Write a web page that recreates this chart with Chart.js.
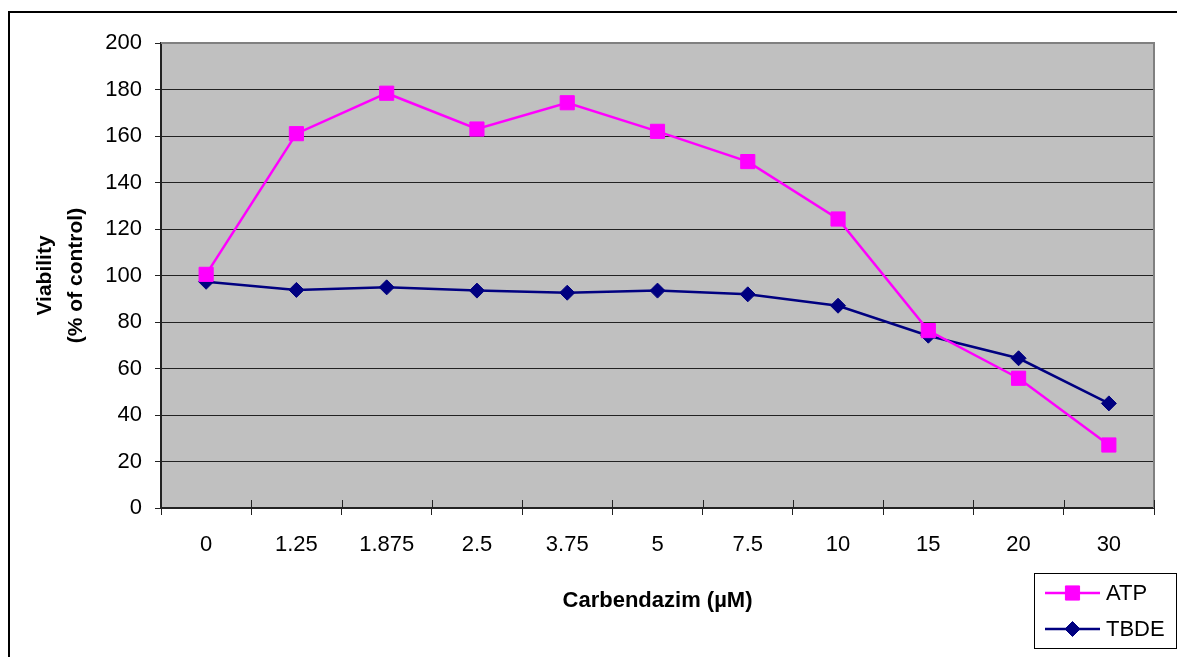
<!DOCTYPE html>
<html>
<head>
<meta charset="utf-8">
<title>Carbendazim viability</title>
<script src="https://cdn.jsdelivr.net/npm/chart.js@4.4.1/dist/chart.umd.min.js"></script>
<style>
  html, body { margin: 0; padding: 0; background: #fff; }
  #wrap { width: 1177px; height: 657px; }
</style>
</head>
<body>
<div id="wrap"><canvas id="viabilityChart" width="1177" height="657"></canvas></div>
<script>
const categories = ['0', '1.25', '1.875', '2.5', '3.75', '5', '7.5', '10', '15', '20', '30'];
const atpValues = [100.5, 161, 178.4, 163, 174.3, 162, 149, 124.3, 76.3, 55.8, 27.1];
const tbdeValues = [97.3, 93.8, 94.9, 93.5, 92.6, 93.5, 91.9, 87, 74.1, 64.4, 45];
const yMin = 0;
const yMax = 200;
const yStep = 20;

const FONT = '"Liberation Sans", Arial, sans-serif';

// white page, outer frame, grey plot background
const backdrop = {
  id: 'backdrop',
  beforeDraw(chart) {
    const { ctx, chartArea: a } = chart;
    ctx.save();
    ctx.fillStyle = '#fff';
    ctx.fillRect(0, 0, chart.width, chart.height);
    ctx.strokeStyle = '#000';
    ctx.lineWidth = 2;
    ctx.beginPath();
    ctx.moveTo(9, chart.height + 5);
    ctx.lineTo(9, 12);
    ctx.lineTo(chart.width + 5, 12);
    ctx.stroke();
    ctx.fillStyle = '#C0C0C0';
    ctx.fillRect(a.left, a.top, a.right - a.left, a.bottom - a.top);
    ctx.restore();
  },
  beforeDatasetsDraw(chart) {
    const { ctx, chartArea: a, scales } = chart;
    ctx.save();
    // grey frame on top and right
    ctx.strokeStyle = '#808080';
    ctx.lineWidth = 2;
    ctx.beginPath();
    ctx.moveTo(a.left, a.top);
    ctx.lineTo(a.right, a.top);
    ctx.lineTo(a.right, a.bottom);
    ctx.stroke();
    // category ticks cross the axis line
    const xs = scales.x;
    const step = xs.getPixelForValue(1) - xs.getPixelForValue(0);
    ctx.strokeStyle = '#222';
    ctx.lineWidth = 1;
    ctx.beginPath();
    for (let i = 0; i <= categories.length; i++) {
      const px = Math.round(xs.getPixelForValue(i) - step / 2) + 0.5;
      ctx.moveTo(px, a.bottom - 8);
      ctx.lineTo(px, a.bottom);
    }
    ctx.stroke();
    ctx.restore();
  }
};

// boxed legend in the lower right corner
const boxLegend = {
  id: 'boxLegend',
  afterDraw(chart) {
    const { ctx } = chart;
    ctx.save();
    ctx.strokeStyle = '#000';
    ctx.lineWidth = 1;
    ctx.strokeRect(1034.5, 573.5, 142, 75);
    ctx.font = '22px ' + FONT;
    ctx.textBaseline = 'middle';
    ctx.textAlign = 'left';
    chart.data.datasets.forEach((ds, i) => {
      const y = 593 + i * 36;
      ctx.strokeStyle = ds.borderColor;
      ctx.lineWidth = ds.borderWidth;
      ctx.beginPath();
      ctx.moveTo(1045, y);
      ctx.lineTo(1100, y);
      ctx.stroke();
      ctx.fillStyle = ds.pointBackgroundColor;
      ctx.strokeStyle = ds.pointBorderColor;
      ctx.lineWidth = ds.pointBorderWidth;
      Chart.helpers.drawPoint(ctx, { pointStyle: ds.pointStyle, radius: ds.pointRadius, borderWidth: ds.pointBorderWidth }, 1072.5, y);
      ctx.fillStyle = '#000';
      ctx.fillText(ds.label, 1106, y + 1);
    });
    ctx.restore();
  }
};

new Chart(document.getElementById('viabilityChart'), {
  type: 'line',
  data: {
    labels: categories,
    datasets: [
      {
        label: 'ATP',
        data: atpValues,
        borderColor: '#FF00FF',
        borderWidth: 2.5,
        pointStyle: 'rect',
        pointRadius: 10,
        pointBackgroundColor: '#FF00FF',
        pointBorderColor: '#FF00FF',
        pointBorderWidth: 1,
        tension: 0
      },
      {
        label: 'TBDE',
        data: tbdeValues,
        borderColor: '#000080',
        borderWidth: 2.5,
        pointStyle: 'rectRot',
        pointRadius: 7.5,
        pointBackgroundColor: '#000080',
        pointBorderColor: '#000080',
        pointBorderWidth: 1,
        tension: 0
      }
    ]
  },
  options: {
    responsive: false,
    animation: false,
    layout: { padding: { top: 43, right: 23, left: 0, bottom: 0 } },
    plugins: {
      legend: { display: false },
      tooltip: { enabled: false }
    },
    scales: {
      x: {
        offset: true,
        grid: { offset: true, drawOnChartArea: false, drawTicks: true, tickLength: 7, color: '#222' },
        border: { display: true, color: '#222', width: 2 },
        ticks: { color: '#000', font: { family: FONT, size: 22 }, padding: 17, maxRotation: 0, autoSkip: false },
        title: {
          display: true,
          text: 'Carbendazim (µM)',
          color: '#000',
          font: { family: FONT, size: 22, weight: 'bold', lineHeight: 1.2 },
          padding: { top: 0, bottom: 43 }
        },
        afterFit(scale) { scale.height = 149; }
      },
      y: {
        min: yMin,
        max: yMax,
        grid: { color: '#222', lineWidth: 1, drawTicks: true, tickLength: 6 },
        border: { display: true, color: '#222', width: 2 },
        ticks: { stepSize: yStep, color: '#000', font: { family: FONT, size: 22 }, padding: 13 },
        title: {
          display: true,
          text: ['Viability', '(% of control)'],
          color: '#000',
          font: { family: FONT, size: 21, weight: 'bold', lineHeight: 1.5 },
          padding: { top: 29, bottom: 0 }
        },
        afterFit(scale) { scale.width = 161; }
      }
    }
  },
  plugins: [backdrop, boxLegend]
});
</script>
</body>
</html>
